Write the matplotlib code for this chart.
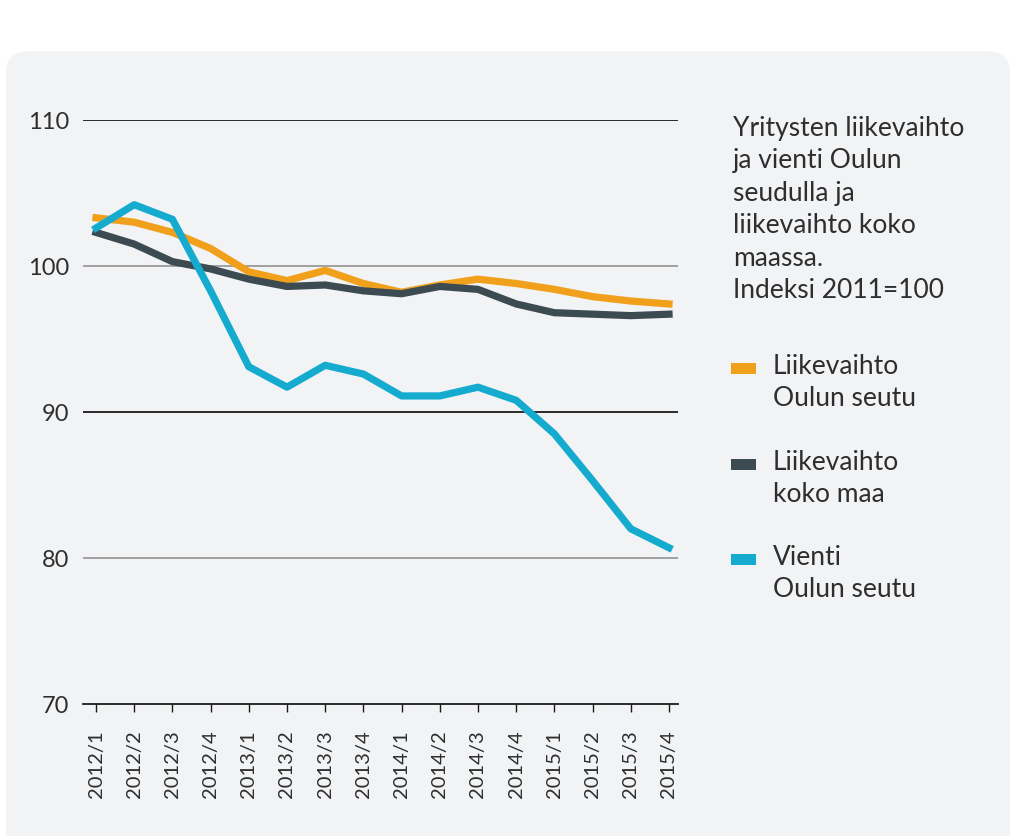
import numpy as np
import matplotlib.pyplot as plt
from matplotlib.patches import FancyBboxPatch, Rectangle

plt.rcParams['font.family'] = ['Lato', 'DejaVu Sans']

# Data
quarters = ['2012/1', '2012/2', '2012/3', '2012/4', '2013/1', '2013/2', '2013/3', '2013/4',
            '2014/1', '2014/2', '2014/3', '2014/4', '2015/1', '2015/2', '2015/3', '2015/4']
liikevaihto_oulu = [103.3, 103.0, 102.3, 101.2, 99.6, 99.0, 99.7, 98.8,
                    98.2, 98.7, 99.1, 98.8, 98.4, 97.9, 97.6, 97.4]
liikevaihto_maa = [102.3, 101.5, 100.3, 99.8, 99.1, 98.6, 98.7, 98.3,
                   98.1, 98.6, 98.4, 97.4, 96.8, 96.7, 96.6, 96.7]
vienti_oulu = [102.6, 104.2, 103.2, 98.3, 93.1, 91.7, 93.2, 92.6,
               91.1, 91.1, 91.7, 90.8, 88.5, 85.3, 82.0, 80.7]

c_orange = '#f0a01a'
c_dark = '#3c4a52'
c_cyan = '#15abcf'
txt = '#2e2e2e'

W, H = 1013, 837
fig = plt.figure(figsize=(W / 100, H / 100), dpi=100)
fig.patch.set_facecolor('white')

# rounded panel background
panel = FancyBboxPatch((6 / W, -0.05), (1004) / W, 1 - 52 / H + 0.05,
                       boxstyle='round,pad=0,rounding_size=0.025',
                       transform=fig.transFigure, facecolor='#f2f3f5',
                       edgecolor='none', zorder=-5)
fig.patches.append(panel)

ax = fig.add_axes([83 / W, 1 - 705 / H, (678 - 83) / W, (705 - 121) / H])
ax.set_facecolor('none')
ax.set_zorder(2)

x = np.arange(len(quarters))
ax.plot(x, liikevaihto_oulu, color=c_orange, lw=5.2, solid_joinstyle='round', zorder=3)
ax.plot(x, liikevaihto_maa, color=c_dark, lw=5.2, solid_joinstyle='round', zorder=4)
ax.plot(x, vienti_oulu, color=c_cyan, lw=5.2, solid_joinstyle='round', zorder=5)

ax.set_xlim(-13 / 38.2, 15 + 9 / 38.2)
ax.set_ylim(70, 110)

for yv, col, lw in [(110, '#1a1a1a', 1.3), (100, '#8a8a8a', 1.1), (90, '#1a1a1a', 1.3), (80, '#8a8a8a', 1.1)]:
    ax.axhline(yv, color=col, lw=lw, zorder=1)

for s in ['top', 'right', 'left']:
    ax.spines[s].set_visible(False)
ax.spines['bottom'].set_color('#1a1a1a')
ax.spines['bottom'].set_linewidth(1.3)

ax.set_yticks([70, 80, 90, 100, 110])
ax.set_yticklabels(['70', '80', '90', '100', '110'])
ax.tick_params(axis='y', length=0, pad=10, labelsize=17, labelcolor=txt)
ax.set_xticks(x)
ax.set_xticklabels(quarters, rotation=90, fontsize=14.5, color=txt)
ax.tick_params(axis='x', length=6, width=1, color='#1a1a1a', direction='out', pad=12)

# Title / legend on the right
fig.text(733 / W, 1 - 116 / H, 'Yritysten liikevaihto\nja vienti Oulun\nseudulla ja\nliikevaihto koko\nmaassa.\nIndeksi 2011=100',
         fontsize=19, color=txt, va='top', ha='left', linespacing=1.37)

legend_items = [('Liikevaihto\nOulun seutu', c_orange, 370),
                ('Liikevaihto\nkoko maa', c_dark, 466),
                ('Vienti\nOulun seutu', c_cyan, 561)]
for label, col, yp in legend_items:
    fig.patches.append(Rectangle((731 / W, 1 - (yp + 5) / H), 25 / W, 11 / H,
                                 transform=fig.transFigure, facecolor=col, edgecolor='none'))
    fig.text(773 / W, 1 - (yp - 16) / H, label, fontsize=19, color=txt,
             va='top', ha='left', linespacing=1.37)

fig.savefig('out.png', dpi=100)
